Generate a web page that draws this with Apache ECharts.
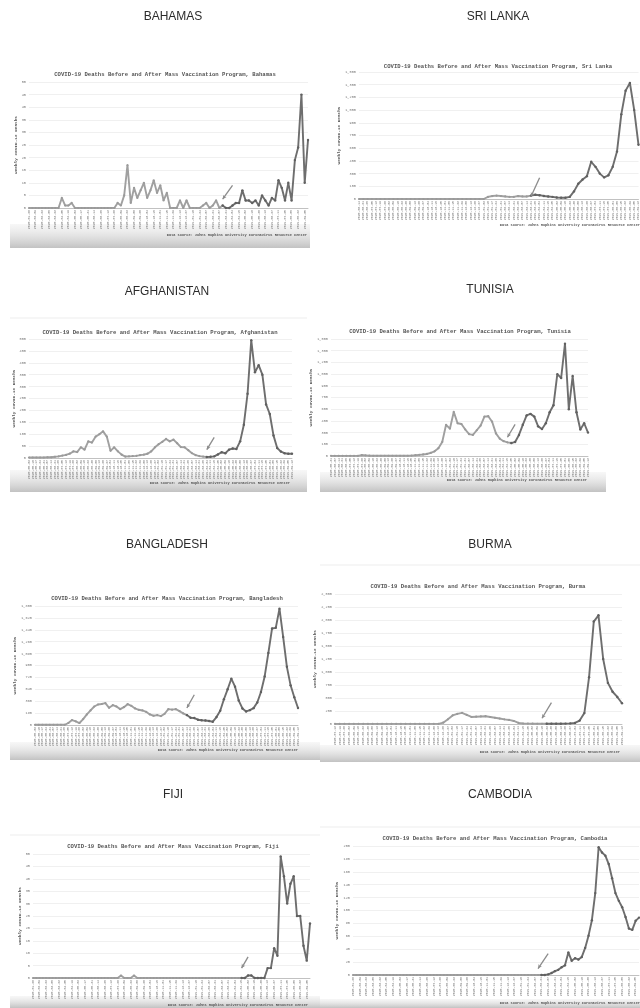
<!DOCTYPE html>
<html><head><meta charset="utf-8">
<script src="https://cdn.jsdelivr.net/npm/echarts@6/dist/echarts.min.js"></script>
<style>html,body{margin:0;padding:0;background:#fff}#c{width:640px;height:1008px}</style>
</head><body><div id="c"></div>
<script>
// ---- data ----
const weeks = ["2020-01-26","2020-02-02","2020-02-09","2020-02-16","2020-02-23","2020-03-01","2020-03-08","2020-03-15","2020-03-22","2020-03-29","2020-04-05","2020-04-12","2020-04-19","2020-04-26","2020-05-03","2020-05-10","2020-05-17","2020-05-24","2020-05-31","2020-06-07","2020-06-14","2020-06-21","2020-06-28","2020-07-05","2020-07-12","2020-07-19","2020-07-26","2020-08-02","2020-08-09","2020-08-16","2020-08-23","2020-08-30","2020-09-06","2020-09-13","2020-09-20","2020-09-27","2020-10-04","2020-10-11","2020-10-18","2020-10-25","2020-11-01","2020-11-08","2020-11-15","2020-11-22","2020-11-29","2020-12-06","2020-12-13","2020-12-20","2020-12-27","2021-01-03","2021-01-10","2021-01-17","2021-01-24","2021-01-31","2021-02-07","2021-02-14","2021-02-21","2021-02-28","2021-03-07","2021-03-14","2021-03-21","2021-03-28","2021-04-04","2021-04-11","2021-04-18","2021-04-25","2021-05-02","2021-05-09","2021-05-16","2021-05-23","2021-05-30","2021-06-06","2021-06-13","2021-06-20","2021-06-27","2021-07-04","2021-07-11","2021-07-18","2021-07-25","2021-08-01","2021-08-08","2021-08-15","2021-08-22","2021-08-29","2021-09-05","2021-09-12"];

const bahamas = [0,0,0,0,0,0,0,0,0,0, 4,1,1,2,0, 0,0,0,0,0,0,0,0,0,0,0,0,
  2,1,5,17,2,8,4,7,10,4,7,11,6,9,3,6,0,0,0,3,0,3,0,0,0,0,1,2,0,1,3,0,1,0,0,1,2,2,7,3,3,2,3,1,5,3,1,4,3,11,8,3,10,3,19,24,45,10,27];
const sriLanka = [0,0,0,0,0,0,0,0,0,0,0,0,0,0,0,0,0,0,0,0,0,0,0,0,0,0,0,0,0,0,
  25,35,40,35,30,25,25,35,30,30,40,50,45,35,30,25,18,15,15,25,90,180,230,270,440,380,300,255,280,380,560,1000,1280,1370,1050,640];
const afghanistan = [2,2,2,2,2,3,3, 5,7,10,13,18,28,25,45,35,70,65,90,100,112, 90,30,45,28,14,6,
  7,8,9,12,14,18,28,45,58,68,80,70,77,62, 46,45,33,20,12,8,6,4,5,7, 15,24,20,35,40,38,70,140,270,495, 360,390,350,225,185,95,42,27,20,18,18];
const tunisia = [2,2,2,2,2,2,2,2, 12,8,4, 3,3,3,3,3,3,3,3,3,3, 5,10,15,20,26,40,60,100,180,
  400,350,565,420,410,340,280,270,330,390, 505,510,440,290,222,190,175,166,180,270, 400,520,540,505,380,345,420,560,650,1050, 1000,1440,600,1025,560,340,420,300];
const bangladesh = [3,3,3,3,3,3,3,3,3, 30,75,55,30,90,160,220,280,310,318, 330,260,300,280,240,270,315,290,250,230,
  220,200,160,140,150,135,170,240,232,240, 210,175,150,110,105,80,72,68,60,50, 120,215,390,540,700,580,370,250,205,225,
  255,340,500,735,1090,1460,1470,1760,1330,880,600,420,257];
const burma = [2,2,2,2,2,2,2,2,2,2,2,2,2,2,2,2,2,2,2,2,2,2,2, 25,90,165,195,215,175,135,140,145,150,
  135,120,105,90,78,58,20,10, 8,6,5,5,4,4,5,6,8,12, 20,65,210,900,1970,2090,1250,790,620,520,400];
const fiji = [0,0,0,0,0,0,0,0,0,0,0,0,0,0,0,0,0,0,0,0,0,0,0,0,0,0,0, 1, 0,0,0, 1,
  0,0,0,0,0,0,0,0,0,0,0,0,0,0,0,0,0,0,0,0,0,0,0,0,0,0,0,0,0,0,0,0,0,0, 1,1, 0,0,0,0,
  4,4,12,9,49,41,30,38,41,25,25,13,7,22];
const cambodia = [0,0,0,0,0,0,0,0,0,0,0,0,0,0,0,0,0,0,0,0,0,0,0,0,0,0,0,0,0,0,0,0,0,0,0,0,0,0,0,0,0,0,0,0,0,0,0,0,0,0,0,0,0,0,0,0,0,0,
  1,3,6,8,12,15,35,22,26,24,28,42,61,85,127,198,190,185,172,150,127,115,105,90,72,70,84,89];

const countryNames = ["Bahamas","Sri Lanka","Afghanistan","Tunisia","Bangladesh","Burma","Fiji","Cambodia"];
const yMax  = [50, 1500, 500, 1500, 1800, 2500, 50, 200];
const yStep = [5, 150, 50, 150, 180, 250, 5, 20];
const vaccIndex = [59, 40, 48, 47, 41, 45, 64, 56];
const arrowFrom = [[59,3.5],[40,30],[48,35],[46,240],[41,257],[44,110],[64,4],[55,10]];
const arrowTo   = [[62,9],[42,250],[50,87],[48,405],[43,458],[46,410],[66,8.5],[58,33]];
const seriesValues = [bahamas, sriLanka, afghanistan, tunisia, bangladesh, burma, fiji, cambodia];

// ---- layout (positions / styles) ----
const panels = [
  {grid:{left:29,top:82,width:279,height:126}, head:[173,17], sub:[165,75], src:[307,235], gap:11, band:[10,224,300,24], lblInt:1},
  {grid:{left:359,top:72,width:281,height:127}, head:[498,17], sub:[498,67], src:[640,225], gap:17, band:null, lblInt:0},
  {grid:{left:29,top:339,width:263,height:119}, head:[167,292], sub:[160,333], src:[290,483], gap:12, band:[10,470,297,22], lblInt:0},
  {grid:{left:331,top:339,width:257,height:117}, head:[490,290], sub:[460,332], src:[587,480], gap:15, band:[320,472,286,20], lblInt:0},
  {grid:{left:35,top:606,width:263,height:119}, head:[167,545], sub:[167,599], src:[298,750], gap:16, band:[10,742,310,18], lblInt:0},
  {grid:{left:335,top:594,width:287,height:130}, head:[490,545], sub:[478,587], src:[620,752], gap:17, band:[320,745,320,17], lblInt:0},
  {grid:{left:33,top:854,width:277,height:124}, head:[173,795], sub:[173,847], src:[308,1005], gap:11, band:[10,996,310,12], lblInt:1},
  {grid:{left:353,top:846,width:286,height:129}, head:[500,795], sub:[495,839], src:[640,1003], gap:14, band:[320,999,320,9], lblInt:1}
];
const MONO = '"Liberation Mono","DejaVu Sans Mono",monospace';
const SANS = '"Liberation Sans",Arial,sans-serif';

const grids = [], xAxes = [], yAxes = [], series = [], graphics = [];

panels.forEach((p, k) => {
  const vals = seriesValues[k];
  const cats = weeks.slice(weeks.length - vals.length);
  const v = vaccIndex[k];
  grids.push(Object.assign({containLabel:false}, p.grid));
  xAxes.push({
    type:'category', gridIndex:k, data:cats, boundaryGap:false,
    axisLine:{show:true, lineStyle:{color:'#b5b5b5', width:0.8}},
    axisTick:{show:false},
    axisLabel:{rotate:90, fontSize:3.2, color:'#777', margin:2, interval:p.lblInt, fontFamily:MONO}
  });
  yAxes.push({
    type:'value', gridIndex:k, min:0, max:yMax[k], interval:yStep[k],
    name:'Weekly COVID-19 Deaths', nameLocation:'middle', nameGap:p.gap, nameRotate:90,
    nameTextStyle:{fontSize:4.4, color:'#555', fontFamily:MONO, fontWeight:'bold'},
    axisLine:{show:false}, axisTick:{show:false},
    axisLabel:{fontSize:3.6, color:'#777', margin:3, fontFamily:MONO,
      formatter:(val)=>val.toLocaleString('en-US')},
    splitLine:{show:true, lineStyle:{color:'#e6e6e6', width:0.6}}
  });
  series.push({
    type:'line', xAxisIndex:k, yAxisIndex:k, showAllSymbol:true, symbol:'circle', symbolSize:2.2,
    data: vals.map((x,i)=> i<=v ? x : '-'),
    lineStyle:{color:'#a0a0a0', width:1.9}, itemStyle:{color:'#9a9a9a'}, z:2
  });
  series.push({
    type:'line', xAxisIndex:k, yAxisIndex:k, showAllSymbol:true, symbol:'circle', symbolSize:2.4,
    data: vals.map((x,i)=> i>=v ? x : '-'),
    lineStyle:{color:'#6e6e6e', width:1.9}, itemStyle:{color:'#606060'}, z:3,
    markLine:{
      silent:true, symbol:['arrow','none'], symbolSize:[3,4], label:{show:false},
      lineStyle:{color:'#8c8c8c', width:1.3, type:'solid'},
      data:[[{coord:[cats[arrowFrom[k][0]], arrowFrom[k][1]]},{coord:[cats[arrowTo[k][0]], arrowTo[k][1]]}]]
    }
  });
  if (p.band) {
    graphics.push({type:'rect', z:-10, shape:{x:p.band[0], y:p.band[1], width:p.band[2], height:p.band[3]},
      style:{fill:new echarts.graphic.LinearGradient(0,0,0,1,[{offset:0,color:'rgba(235,235,235,0.4)'},{offset:1,color:'#c2c2c2'}])}});
  }
  graphics.push({type:'text', z:10, style:{text:countryNames[k].toUpperCase(), x:p.head[0], y:p.head[1],
    textAlign:'center', align:'center', textVerticalAlign:'middle', verticalAlign:'middle',
    font:'12px '+SANS, fill:'#2b2b2b'}});
  graphics.push({type:'text', z:10, style:{text:'COVID-19 Deaths Before and After Mass Vaccination Program, '+countryNames[k],
    x:p.sub[0], y:p.sub[1], textAlign:'center', align:'center', textVerticalAlign:'middle', verticalAlign:'middle',
    font:'bold 5.6px '+MONO, fill:'#555'}});
  graphics.push({type:'text', z:10, style:{text:'Data source: Johns Hopkins University Coronavirus Resource Center',
    x:p.src[0], y:p.src[1], textAlign:'right', align:'right', textVerticalAlign:'middle', verticalAlign:'middle',
    font:'bold 3.6px '+MONO, fill:'#555'}});
});
// faint panel separators
[[10,318,297],[10,835,310],[320,827,320],[320,565,320]].forEach(l=>{
  graphics.push({type:'line', z:-5, shape:{x1:l[0], y1:l[1], x2:l[0]+l[2], y2:l[1]}, style:{stroke:'#ededed', lineWidth:1}});
});

const chart = echarts.init(document.getElementById('c'), null, {renderer:'canvas'});
chart.setOption({
  animation:false, backgroundColor:'#ffffff',
  grid:grids, xAxis:xAxes, yAxis:yAxes, series:series, graphic:graphics
});
</script></body></html>
